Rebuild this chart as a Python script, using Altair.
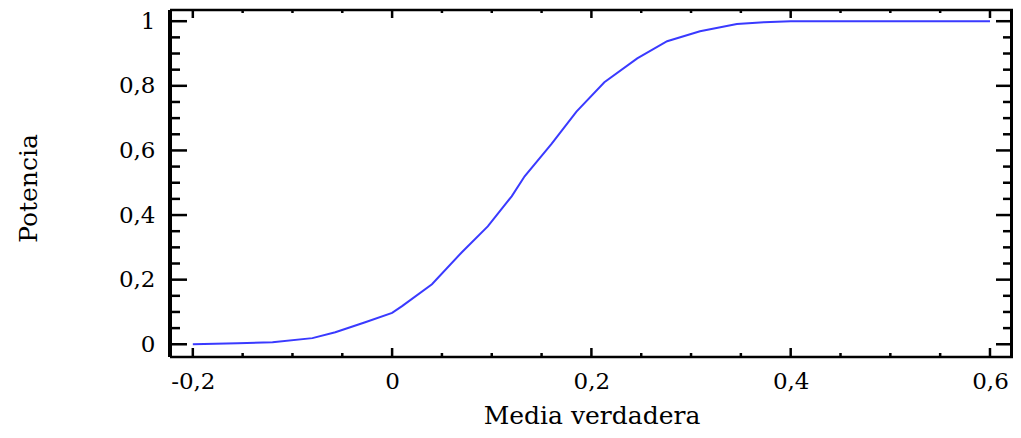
import altair as alt
import pandas as pd

# Curve
media_verdadera = [-0.2, -0.155, -0.12, -0.08, -0.057, -0.027, 0.0, 0.01, 0.04, 0.07,
                   0.096, 0.12, 0.133, 0.16, 0.185, 0.213, 0.246, 0.276, 0.309, 0.346,
                   0.373, 0.4, 0.6]
potencia = [0.0, 0.003, 0.006, 0.019, 0.037, 0.068, 0.097, 0.118, 0.186, 0.285,
            0.365, 0.458, 0.52, 0.62, 0.72, 0.811, 0.885, 0.938, 0.969, 0.991,
            0.997, 1.0, 1.0]

x_major = [-0.2, 0.0, 0.2, 0.4, 0.6]
x_minor = [-0.15, -0.1, -0.05, 0.05, 0.1, 0.15, 0.25, 0.3, 0.35, 0.45, 0.5, 0.55]
y_major = [0.0, 0.2, 0.4, 0.6, 0.8, 1.0]
y_minor = [0.05, 0.1, 0.15, 0.25, 0.3, 0.35, 0.45, 0.5, 0.55, 0.65, 0.7, 0.75,
           0.85, 0.9, 0.95]

W, H = 843, 347
FONT = "DejaVu Serif"

xs = alt.Scale(domain=[-0.2229, 0.6231], nice=False, zero=False)
ys = alt.Scale(domain=[-0.0394, 1.0347], nice=False, zero=False)

label_expr = ("datum.value < 0 ? '-' + replace(format(-datum.value, '~g'), '.', ',') "
              ": replace(format(datum.value, '~g'), '.', ',')")

x_axis = alt.Axis(values=x_major, ticks=False, domain=False, grid=False,
                  labelExpr=label_expr, labelFont=FONT, labelFontSize=23,
                  labelColor="black", labelPadding=13,
                  title="Media verdadera", titleFont=FONT, titleFontSize=25,
                  titleFontWeight="normal", titleColor="black", titlePadding=10)
y_axis = alt.Axis(values=y_major, ticks=False, domain=False, grid=False,
                  labelExpr=label_expr, labelFont=FONT, labelFontSize=23,
                  labelColor="black", labelPadding=15,
                  title="Potencia", titleFont=FONT, titleFontSize=25,
                  titleFontWeight="normal", titleColor="black",
                  titleX=-142, titleY=178, titleAngle=-90,
                  titleAlign="center", titleBaseline="middle")

df = pd.DataFrame({"media": media_verdadera, "potencia": potencia})

line = alt.Chart(df).mark_line(color="#3a3aff", strokeWidth=2).encode(
    x=alt.X("media:Q", scale=xs, axis=x_axis),
    y=alt.Y("potencia:Q", scale=ys, axis=y_axis),
)


def xticks(vals, length, top):
    d = pd.DataFrame({"media": vals})
    if top:
        yv, y2v = alt.value(0), alt.value(length)
    else:
        yv, y2v = alt.value(H), alt.value(H - length)
    return alt.Chart(d).mark_rule(color="black", strokeWidth=2.5).encode(
        x=alt.X("media:Q", scale=xs, axis=x_axis), y=yv, y2=y2v)


def yticks(vals, length, left):
    d = pd.DataFrame({"potencia": vals})
    if left:
        xv, x2v = alt.value(0), alt.value(length)
    else:
        xv, x2v = alt.value(W), alt.value(W - length)
    return alt.Chart(d).mark_rule(color="black", strokeWidth=2.5).encode(
        y=alt.Y("potencia:Q", scale=ys, axis=y_axis), x=xv, x2=x2v)


one = pd.DataFrame({"k": [0]})
frame = [
    alt.Chart(one).mark_rule(color="black", strokeWidth=4).encode(
        x=alt.value(0), y=alt.value(0), y2=alt.value(H)),
    alt.Chart(one).mark_rule(color="black", strokeWidth=4).encode(
        x=alt.value(W - 1), y=alt.value(0), y2=alt.value(H)),
    alt.Chart(one).mark_rule(color="black", strokeWidth=2.5).encode(
        y=alt.value(0), x=alt.value(0), x2=alt.value(W)),
    alt.Chart(one).mark_rule(color="black", strokeWidth=2.5).encode(
        y=alt.value(H), x=alt.value(0), x2=alt.value(W)),
]

chart = alt.layer(
    line,
    xticks(x_major, 9, False), xticks(x_minor, 4, False),
    xticks(x_major, 8, True), xticks(x_minor, 3, True),
    yticks(y_major, 17, True), yticks(y_minor, 10, True),
    yticks(y_major, 17, False), yticks(y_minor, 10, False),
    *frame,
).properties(
    width=W, height=H,
    autosize=alt.AutoSizeParams(type="none"),
    padding={"left": 162, "top": 2, "right": 0, "bottom": 73},
).configure_view(stroke=None).configure(background="white")

chart.save("out.html", embed_options={"renderer": "svg", "actions": False})
